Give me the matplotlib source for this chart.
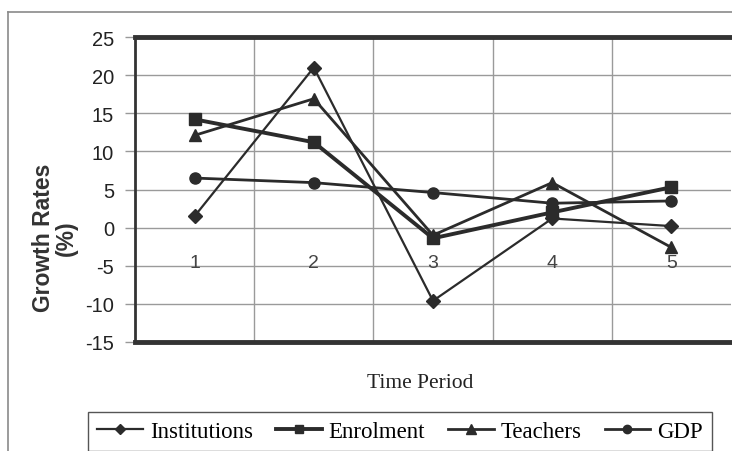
import matplotlib
matplotlib.use("Agg")
import matplotlib.pyplot as plt
from matplotlib.lines import Line2D

categories = ["1", "2", "3", "4", "5"]
institutions = [1.5, 21.0, -9.6, 1.2, 0.2]
enrolment = [14.2, 11.2, -1.4, 2.0, 5.3]
teachers = [12.1, 16.9, -1.0, 5.9, -2.6]
gdp = [6.5, 5.9, 4.6, 3.2, 3.5]
yticks = [25, 20, 15, 10, 5, 0, -5, -10, -15]

W, H = 732, 452
fig = plt.figure(figsize=(W / 100, H / 100), dpi=100)
fig.patch.set_facecolor("white")

ax = fig.add_axes([135 / W, 1 - 343 / H, (731 - 135) / W, (343 - 38) / H])
x = list(range(1, len(categories) + 1))
dark = "#2b2b2b"

ax.plot(x, institutions, color=dark, lw=1.6, marker="D", ms=7, label="Institutions", zorder=3)
ax.plot(x, enrolment, color=dark, lw=2.8, marker="s", ms=8, label="Enrolment", zorder=4)
ax.plot(x, teachers, color=dark, lw=2.0, marker="^", ms=9, label="Teachers", zorder=3)
ax.plot(x, gdp, color=dark, lw=2.0, marker="o", ms=8, label="GDP", zorder=3)

ax.set_xlim(0.5, len(categories) + 0.5)
ax.set_ylim(-15, 25)
ax.set_yticks(yticks)
ax.set_yticklabels([str(v) for v in yticks], fontsize=14.5, family="Liberation Sans", color="#222222")
ax.tick_params(axis="y", length=7, width=1, color="#999999", pad=8)
ax.set_xticks([])
for i in range(1, len(categories)):
    ax.axvline(i + 0.5, color="#9a9a9a", lw=1, zorder=1)
for v in yticks[1:-1]:
    ax.axhline(v, color="#9a9a9a", lw=1, zorder=1)
for xi, c in zip(x, categories):
    ax.text(xi, -4.6, c, ha="center", va="center", fontsize=14, family="Liberation Sans", color="#444444")

for s in ["top", "bottom"]:
    ax.spines[s].set_linewidth(3.5)
    ax.spines[s].set_color("#333333")
ax.spines["left"].set_linewidth(2)
ax.spines["left"].set_color("#333333")
ax.spines["right"].set_visible(False)

fig.text(55 / W, 1 - 238 / H, "Growth Rates\n(%)", rotation=90, ha="center", va="center",
         fontsize=16.5, fontweight="bold", family="Liberation Sans", color="#333333", linespacing=0.95)
fig.text(420 / W, 1 - 383 / H, "Time Period", ha="center", va="center",
         fontsize=15.5, family="Liberation Serif", color="#222222")

# outer chart border
fig.add_artist(Line2D([8 / W, 1], [1 - 13 / H, 1 - 13 / H], color="#8a8a8a", lw=1.2, transform=fig.transFigure))
fig.add_artist(Line2D([8 / W, 8 / W], [0, 1 - 13 / H], color="#8a8a8a", lw=1.2, transform=fig.transFigure))

handles, labels = ax.get_legend_handles_labels()
leg = fig.legend(handles, labels, loc="upper left", bbox_to_anchor=(88 / W, 1 - 413 / H), ncol=4,
                 frameon=True, fancybox=False, edgecolor="#555555", framealpha=1,
                 prop={"family": "Liberation Serif", "size": 16.5}, handlelength=2.0,
                 columnspacing=1.0, handletextpad=0.3, borderpad=0.4, markerscale=0.75,
                 borderaxespad=0)
leg.get_frame().set_linewidth(1)

fig.savefig("out.png", dpi=100, facecolor="white")
